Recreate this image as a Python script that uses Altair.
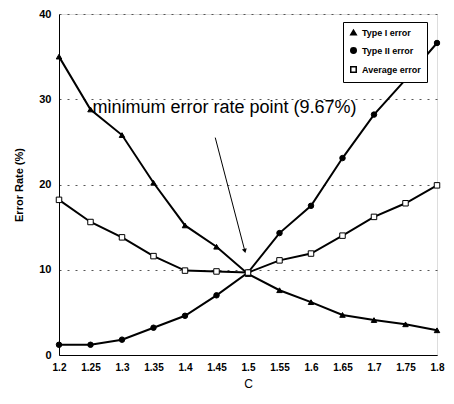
import altair as alt
import pandas as pd

c_values = [1.2, 1.25, 1.3, 1.35, 1.4, 1.45, 1.5, 1.55, 1.6, 1.65, 1.7, 1.75, 1.8]
type1 = [35.0, 28.8, 25.8, 20.2, 15.2, 12.7, 9.5, 7.6, 6.2, 4.7, 4.1, 3.6, 2.9]
type2 = [1.2, 1.2, 1.8, 3.2, 4.6, 7.0, 9.67, 14.3, 17.5, 23.1, 28.2, 32.3, 36.6]
average = [18.2, 15.6, 13.8, 11.6, 9.9, 9.8, 9.67, 11.1, 11.9, 14.0, 16.2, 17.8, 19.9]
series_names = ["Type I error", "Type II error", "Average error"]

rows = []
for name, vals in zip(series_names, [type1, type2, average]):
    for c, v in zip(c_values, vals):
        rows.append({"C": c, "rate": v, "series": name})
df = pd.DataFrame(rows)

note_text = ["minimum error rate point (9.67%)"]
note_x = [1.25]
note_y = [29.0]
arrow_x = [1.448, 1.495]
arrow_y = [25.5, 12.2]

xscale = alt.Scale(domain=[1.2, 1.8], nice=False, zero=False)
yscale = alt.Scale(domain=[0, 40], nice=False)

xax = alt.Axis(values=c_values, labelExpr="format(datum.value, '.3~f')",
               title="C", grid=False, tickSize=0, labelFontSize=10, labelFontWeight="bold",
               labelOverlap=False, labelFlush=False, labelBound=False,
               titleFontSize=12, titleFontWeight="normal", titlePadding=6, labelPadding=7,
               domainColor="black")
yax = alt.Axis(values=[0, 10, 20, 30, 40], title="Error Rate (%)", grid=True, gridDash=[2, 6],
               gridColor="#555", tickSize=0, labelFontSize=11, labelFontWeight="bold",
               labelFlush=False,
               titleFontSize=11, titleFontWeight="bold", titlePadding=14, labelPadding=8,
               domainColor="black")

X = alt.X("C:Q", scale=xscale, axis=xax)
Y = alt.Y("rate:Q", scale=yscale, axis=yax)
Xn = alt.X("x:Q", scale=xscale, axis=xax)
Yn = alt.Y("y:Q", scale=yscale, axis=yax)

legend_cfg = dict(title=None, orient="none", legendX=284, legendY=8,
                  strokeColor="black", padding=6, labelFontSize=9,
                  labelFontWeight="bold", symbolSize=30, rowPadding=6,
                  fillColor="white")

base = alt.Chart(df)
lines = base.mark_line(color="black", strokeWidth=2).encode(
    x=X, y=Y, detail="series:N",
)
points = base.mark_point(filled=True, stroke="black", strokeWidth=1, size=30, opacity=1).encode(
    x=X, y=Y,
    shape=alt.Shape("series:N", sort=series_names,
                    scale=alt.Scale(domain=series_names, range=["triangle-up", "circle", "square"]),
                    legend=alt.Legend(**legend_cfg)),
    fill=alt.Fill("series:N", sort=series_names,
                  scale=alt.Scale(domain=series_names, range=["black", "black", "white"]),
                  legend=alt.Legend(**legend_cfg)),
)

note_df = pd.DataFrame({"x": note_x, "y": note_y, "t": note_text})
note = alt.Chart(note_df).mark_text(align="left", baseline="middle", fontSize=18,
                                    font="Liberation Sans", dx=2).encode(
    x=Xn, y=Yn, text="t:N")

arrow_df = pd.DataFrame({"x": arrow_x, "y": arrow_y, "o": [0, 1]})
arrow = alt.Chart(arrow_df).mark_line(color="black", strokeWidth=1).encode(
    x=Xn, y=Yn, order="o:Q")
head = alt.Chart(arrow_df.iloc[[1]]).mark_point(shape="triangle-down", filled=True, color="black",
                                               size=25, angle=345, opacity=1).encode(
    x=Xn, y=Yn)

chart = alt.layer(lines, points, arrow, head, note).properties(
    width=378, height=341,
    autosize=alt.AutoSizeParams(type="none"),
    padding={"left": 51, "top": 6, "right": 9, "bottom": 41},
).configure_view(stroke="black", strokeWidth=1.5).configure(
    font="Liberation Sans"
).configure_axis(labelColor="black", titleColor="black")

chart.save("out.html", embed_options={"renderer": "svg", "actions": False})
